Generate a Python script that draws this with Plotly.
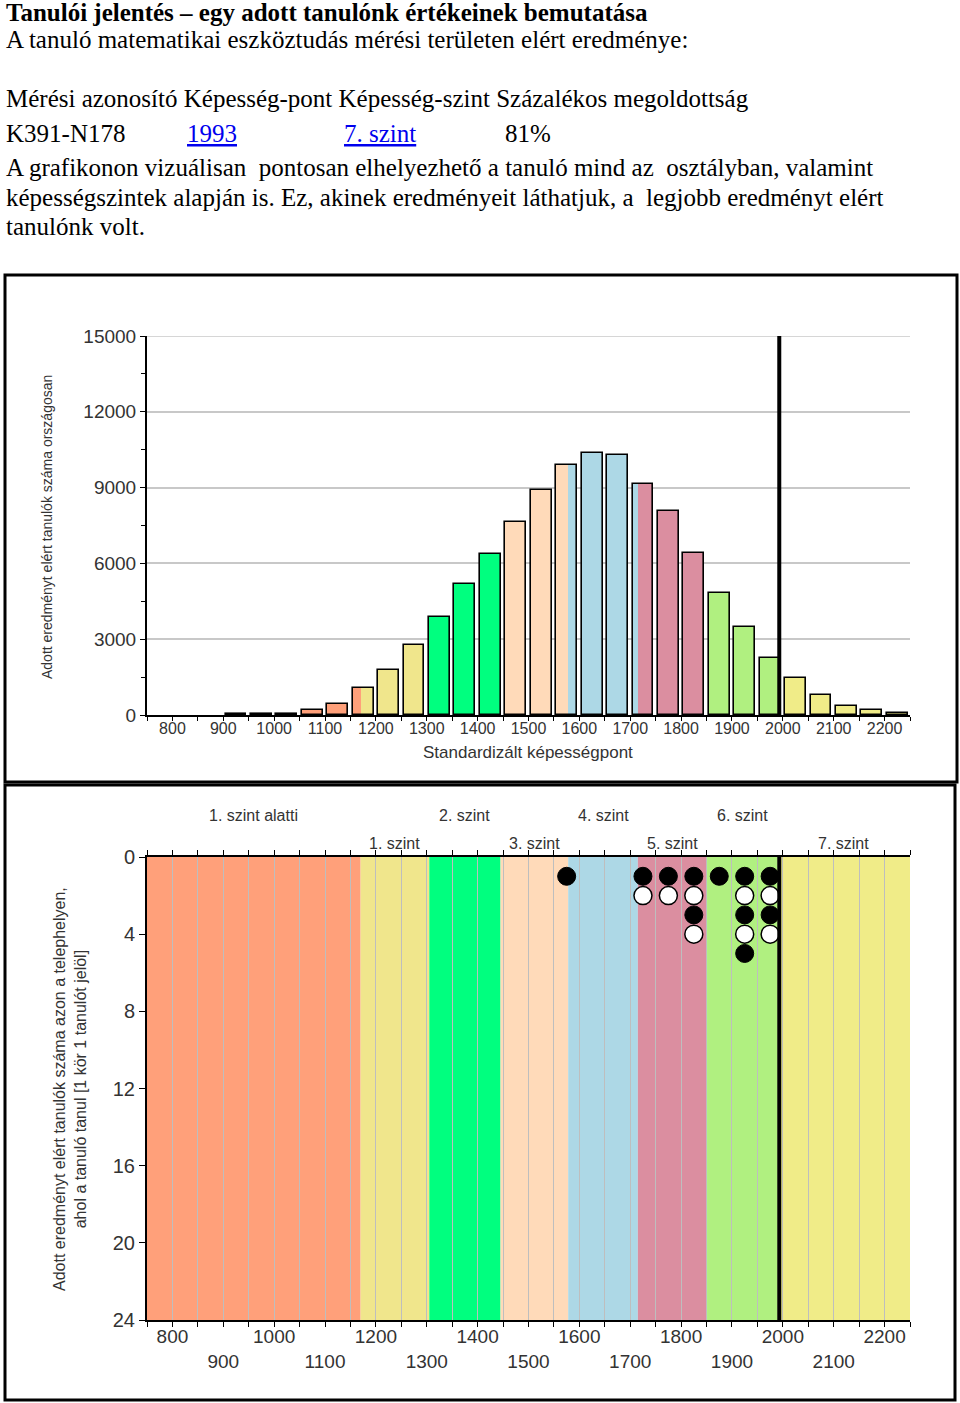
import plotly.graph_objects as go

# ---------------- data ----------------
bin_centers = [825, 875, 925, 975, 1025, 1075, 1125, 1175, 1225, 1275, 1325, 1375, 1425,
               1475, 1525, 1575, 1625, 1675, 1725, 1775, 1825, 1875, 1925, 1975, 2025,
               2075, 2125, 2175, 2225]
national_counts = [0, 0, 30, 40, 40, 200, 440, 1070, 1780, 2760, 3890, 5180, 6380,
                   7650, 8890, 9900, 10370, 10280, 9140, 8060, 6410, 4820, 3470, 2270, 1470,
                   790, 370, 185, 65]

level_names = ["1. szint alatti", "1. szint", "2. szint", "3. szint", "4. szint",
               "5. szint", "6. szint", "7. szint"]
level_edges = [750, 1170, 1305, 1445, 1578, 1715, 1851, 1990, 2250]
level_colors = ["#FFA07A", "#F0E68C", "#00FF7F", "#FFDAB9", "#ADD8E6",
                "#DB8EA0", "#B0F080", "#F0EC88"]

student_score = 1993

dot_scores = [1575, 1725, 1725, 1775, 1775, 1825, 1825, 1825, 1825, 1875,
              1925, 1925, 1925, 1925, 1925, 1975, 1975, 1975, 1975]
dot_rows = [1, 1, 2, 1, 2, 1, 2, 3, 4, 1,
            1, 2, 3, 4, 5, 1, 2, 3, 4]
dot_filled = [1, 1, 0, 1, 0, 1, 0, 1, 0, 1,
              1, 0, 1, 0, 1, 1, 0, 1, 0]

x_tick_vals = list(range(800, 2201, 100))
y1_tick_vals = [0, 3000, 6000, 9000, 12000, 15000]
y2_tick_vals = [0, 4, 8, 12, 16, 20, 24]

header_cols = ["Mérési azonosító", "Képesség-pont", "Képesség-szint", "Százalékos megoldottság"]
student_row = ["K391-N178", "1993", "7. szint", "81%"]

BAR_W = 41
W, H = 960, 1403


def xp(px):
    return px / W


def yp(py):
    return 1 - py / H


SANS = "Liberation Sans, Arial, sans-serif"
SERIF = "Liberation Serif, Times New Roman, serif"

fig = go.Figure()

# ---------- chart 1: coloured bar segments ----------
for li, col in enumerate(level_colors):
    xs, ws, ys = [], [], []
    for c, v in zip(bin_centers, national_counts):
        if v <= 0:
            continue
        lo, hi = c - BAR_W / 2, c + BAR_W / 2
        a, b = max(lo, level_edges[li]), min(hi, level_edges[li + 1])
        if b > a:
            xs.append((a + b) / 2)
            ws.append(b - a)
            ys.append(v)
    if xs:
        fig.add_trace(go.Bar(x=xs, y=ys, width=ws, marker=dict(color=col, line=dict(width=0)),
                             xaxis="x", yaxis="y", showlegend=False, hoverinfo="skip"))

# outlines
oc = [c for c, v in zip(bin_centers, national_counts) if v > 0]
ov = [v for v in national_counts if v > 0]
fig.add_trace(go.Bar(x=oc, y=ov, width=[BAR_W] * len(oc),
                     marker=dict(color="rgba(0,0,0,0)", line=dict(color="black", width=1.6)),
                     xaxis="x", yaxis="y", showlegend=False))

fig.add_trace(go.Scatter(x=[student_score, student_score], y=[0, y1_tick_vals[-1]],
                         mode="lines", line=dict(color="black", width=4),
                         xaxis="x", yaxis="y", showlegend=False))

# ---------- chart 2 ----------
shapes = []
for li, col in enumerate(level_colors):
    shapes.append(dict(type="rect", xref="x2", yref="y2", x0=level_edges[li], x1=level_edges[li + 1],
                       y0=0, y1=24, fillcolor=col, line=dict(width=0), layer="below"))

fx = [s for s, f in zip(dot_scores, dot_filled) if f]
fy = [r for r, f in zip(dot_rows, dot_filled) if f]
ex = [s for s, f in zip(dot_scores, dot_filled) if not f]
ey = [r for r, f in zip(dot_rows, dot_filled) if not f]
fig.add_trace(go.Scatter(x=ex, y=ey, mode="markers", xaxis="x2", yaxis="y2",
                         marker=dict(size=18, color="white", line=dict(color="black", width=1.5)),
                         showlegend=False, cliponaxis=False))
fig.add_trace(go.Scatter(x=fx, y=fy, mode="markers", xaxis="x2", yaxis="y2",
                         marker=dict(size=18, color="black", line=dict(color="black", width=1)),
                         showlegend=False, cliponaxis=False))
fig.add_trace(go.Scatter(x=[student_score, student_score], y=[0, 24], mode="lines",
                         line=dict(color="black", width=4), xaxis="x2", yaxis="y2", showlegend=False))

# chart 1 top gridline (at the axis end)
shapes.append(dict(type="line", xref="x", yref="y", x0=750, x1=2250, y0=y1_tick_vals[-1], y1=y1_tick_vals[-1],
                   line=dict(color="#C8C8C8", width=1.5), layer="below"))

# borders
shapes.append(dict(type="rect", xref="paper", yref="paper", x0=xp(5), x1=xp(957), y0=yp(782), y1=yp(275),
                   line=dict(color="black", width=3)))
shapes.append(dict(type="rect", xref="paper", yref="paper", x0=xp(5), x1=xp(955), y0=yp(1400), y1=yp(785),
                   line=dict(color="black", width=3)))

annotations = []
TXT = 25
annotations.append(dict(x=xp(4), y=yp(12), xref="paper", yref="paper", xanchor="left", yanchor="middle",
                        showarrow=False, text="<b>Tanulói jelentés – egy adott tanulónk értékeinek bemutatása</b>",
                        font=dict(family=SERIF, size=TXT, color="black")))
annotations.append(dict(x=xp(4), y=yp(40), xref="paper", yref="paper", xanchor="left", yanchor="middle",
                        showarrow=False, text="A tanuló matematikai eszköztudás mérési területen elért eredménye:",
                        font=dict(family=SERIF, size=TXT, color="black")))
annotations.append(dict(x=xp(4), y=yp(98), xref="paper", yref="paper", xanchor="left", yanchor="middle",
                        showarrow=False, text=" ".join(header_cols),
                        font=dict(family=SERIF, size=TXT, color="black")))
row_x = [4, 185, 342, 503]
for i, (t, px) in enumerate(zip(student_row, row_x)):
    link = i in (1, 2)
    annotations.append(dict(x=xp(px), y=yp(133), xref="paper", yref="paper", xanchor="left", yanchor="middle",
                            showarrow=False, text=f"<u>{t}</u>" if link else t,
                            font=dict(family=SERIF, size=TXT, color="#0000EE" if link else "black")))
para = ["A grafikonon vizuálisan  pontosan elhelyezhető a tanuló mind az  osztályban, valamint",
        "képességszintek alapján is. Ez, akinek eredményeit láthatjuk, a  legjobb eredményt elért",
        "tanulónk volt."]
for t, py in zip(para, [168, 197, 226]):
    annotations.append(dict(x=xp(4), y=yp(py), xref="paper", yref="paper", xanchor="left", yanchor="middle",
                            showarrow=False, text=t.replace("  ", "&nbsp; "),
                            font=dict(family=SERIF, size=TXT, color="black")))

# chart 1 titles
annotations.append(dict(x=xp(528), y=yp(752), xref="paper", yref="paper", xanchor="center", yanchor="middle",
                        showarrow=False, text="Standardizált képességpont",
                        font=dict(family=SANS, size=17, color="#333333")))
annotations.append(dict(x=xp(47), y=yp(527), xref="paper", yref="paper", xanchor="center", yanchor="middle",
                        showarrow=False, textangle=-90, text="Adott eredményt elért tanulók száma országosan",
                        font=dict(family=SANS, size=14, color="#333333")))

# chart 2 level labels
for li, name in enumerate(level_names):
    cx = (level_edges[li] + level_edges[li + 1]) / 2
    py = 815 if li % 2 == 0 else 843
    annotations.append(dict(x=cx, y=yp(py), xref="x2", yref="paper", xanchor="center", yanchor="middle",
                            showarrow=False, text=name, font=dict(family=SANS, size=16, color="#333333")))

annotations.append(dict(x=xp(70), y=yp(1089), xref="paper", yref="paper", xanchor="center", yanchor="middle",
                        showarrow=False, textangle=-90,
                        text="Adott eredményt elért tanulók száma azon a telephelyen,<br>ahol a tanuló tanul [1 kör 1 tanulót jelöl]",
                        font=dict(family=SANS, size=16, color="#333333")))

x2_text = [str(v) if (v // 100) % 2 == 0 else "<br>" + str(v) for v in x_tick_vals]

fig.update_layout(
    width=W, height=H, margin=dict(l=0, r=0, t=0, b=0, pad=0, autoexpand=False),
    paper_bgcolor="white", plot_bgcolor="white",
    barmode="overlay", bargap=0, showlegend=False,
    shapes=shapes, annotations=annotations,
    xaxis=dict(domain=[xp(147), xp(910)], range=[750, 2250], anchor="y", automargin=False,
               tickvals=x_tick_vals, ticktext=[str(v) for v in x_tick_vals],
               ticks="outside", ticklen=4, tickcolor="black", tickwidth=1,
               minor=dict(dtick=50, tick0=0, ticks="outside", ticklen=4, tickcolor="black", showgrid=False),
               showline=True, linecolor="black", linewidth=2, showgrid=False, zeroline=False,
               tickfont=dict(family=SANS, size=16, color="#333333")),
    yaxis=dict(domain=[yp(715), yp(336)], range=[0, 15000], anchor="x", automargin=False,
               tickvals=y1_tick_vals, ticktext=[str(v) for v in y1_tick_vals],
               ticks="outside", ticklen=5, tickcolor="black",
               minor=dict(dtick=1500, ticks="outside", ticklen=4, tickcolor="black", showgrid=False),
               showline=True, linecolor="black", linewidth=2,
               showgrid=True, gridcolor="#C8C8C8", gridwidth=1.5, zeroline=False,
               tickfont=dict(family=SANS, size=19, color="#333333")),
    xaxis2=dict(domain=[xp(147), xp(910)], range=[750, 2250], anchor="y2", automargin=False,
                tickvals=x_tick_vals, ticktext=x2_text,
                ticks="outside", ticklen=5, tickcolor="black", mirror="ticks",
                minor=dict(dtick=50, tick0=0, ticks="outside", ticklen=5, tickcolor="black",
                           showgrid=True, gridcolor="#BEBEBE", gridwidth=1),
                showline=True, linecolor="black", linewidth=2,
                showgrid=True, gridcolor="#BEBEBE", gridwidth=1, zeroline=False,
                tickfont=dict(family=SANS, size=19, color="#333333")),
    yaxis2=dict(domain=[yp(1320), yp(857)], range=[24, 0], anchor="x2", automargin=False,
                tickvals=y2_tick_vals, ticks="outside", ticklen=6, tickcolor="black",
                showline=True, linecolor="black", linewidth=2, showgrid=False, zeroline=False,
                tickfont=dict(family=SANS, size=20, color="#333333")),
)

# pull the x tick labels a little closer to their axes
for ax_name, off in (("xaxis", -6), ("xaxis2", -7)):
    try:
        fig.layout[ax_name].ticklabelstandoff = off
    except Exception:
        pass

fig.write_html("out.html", config={"displayModeBar": False},
               post_script="document.body.style.margin='0';document.body.style.overflow='hidden';")
